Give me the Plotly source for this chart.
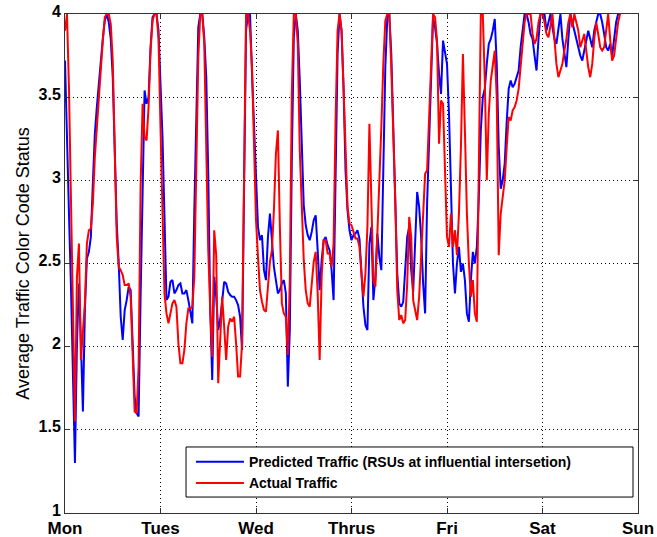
import plotly.graph_objects as go

# Half-hourly averaged traffic colour code status, Monday 00:00 onwards
day_labels = ["Mon", "Tues", "Wed", "Thrus", "Fri", "Sat", "Sun"]
step_hours = 0.5

pred_mon = [3.72, 3.2, 2.8, 2.36, 1.82, 1.30, 2.02, 2.38, 2.02, 1.61, 2.22, 2.53,
            2.57, 2.66, 2.98, 3.28, 3.44, 3.59, 3.74, 3.85, 3.96, 4.0, 3.95, 3.85,
            3.62, 3.12, 2.74, 2.5, 2.18, 2.04, 2.22, 2.28, 2.36, 2.34, 2.02, 1.70,
            1.60, 1.58, 2.30, 3.02, 3.54, 3.46, 3.50, 3.80, 3.98, 4.0, 4.0, 3.9]
pred_tue = [3.62, 3.26, 2.78, 2.28, 2.30, 2.39, 2.40, 2.32, 2.34, 2.37, 2.38, 2.32,
            2.32, 2.34, 2.28, 2.22, 2.14, 2.82, 3.42, 3.92, 4.0, 4.0, 3.86, 3.62,
            3.04, 2.22, 1.80, 2.42, 2.30, 2.10, 2.16, 2.30, 2.39, 2.38, 2.33, 2.31,
            2.30, 2.30, 2.28, 2.25, 2.18, 1.98, 2.92, 3.90, 4.0, 4.0, 3.64, 3.32]
pred_wed = [3.0, 2.72, 2.64, 2.67, 2.46, 2.40, 2.66, 2.80, 2.64, 2.48, 2.40, 2.32,
            2.34, 2.38, 2.40, 2.32, 1.76, 2.10, 3.12, 3.86, 4.0, 3.90, 3.60, 3.16,
            2.85, 2.73, 2.67, 2.64, 2.69, 2.76, 2.79, 2.58, 2.34, 2.52, 2.64, 2.66,
            2.61, 2.58, 2.46, 2.28, 3.02, 3.76, 4.0, 3.90, 3.56, 3.06, 2.82, 2.70]
pred_thu = [2.64, 2.67, 2.68, 2.70, 2.65, 2.46, 2.24, 2.13, 2.10, 2.62, 2.72, 2.28,
            2.42, 2.68, 2.54, 2.46, 3.18, 3.68, 3.98, 4.0, 3.76, 3.28, 2.82, 2.44,
            2.26, 2.24, 2.27, 2.44, 2.66, 2.72, 2.46, 2.33, 2.62, 2.93, 2.84, 2.66,
            2.38, 2.20, 2.86, 3.28, 3.70, 3.98, 3.92, 3.82, 3.64, 3.52, 3.84, 3.78]
pred_fri = [3.70, 3.40, 2.90, 2.50, 2.32, 2.50, 2.60, 2.45, 2.50, 2.40, 2.20, 2.15,
            2.40, 2.57, 2.50, 2.60, 2.90, 3.30, 3.50, 3.55, 3.70, 3.82, 3.85, 3.90,
            3.97, 3.70, 3.20, 2.95, 3.00, 3.10, 3.35, 3.55, 3.60, 3.56, 3.58, 3.62,
            3.66, 3.80, 3.92, 4.0, 4.0, 3.95, 3.88, 3.85, 3.75, 3.66, 3.85, 4.0]
pred_sat = [4.0, 4.0, 3.90, 3.95, 4.0, 3.92, 3.85, 3.82, 3.90, 4.0, 3.85, 3.75,
            3.68, 3.85, 4.0, 3.95, 3.90, 3.85, 3.80, 3.75, 3.72, 3.78, 3.85, 3.90,
            3.85, 3.80, 3.90, 3.95, 4.0, 4.0, 3.95, 3.88, 3.80, 3.78, 3.82, 3.75,
            3.85, 3.95, 4.0, 4.0]

actual_mon = [3.9, 4.0, 3.55, 2.82, 2.05, 1.55, 2.42, 2.62, 1.92, 2.1, 2.26, 2.62,
              2.70, 2.71, 2.86, 3.14, 3.32, 3.49, 3.70, 3.84, 3.98, 4.0, 4.0, 3.94,
              3.72, 3.26, 2.66, 2.48, 2.46, 2.43, 2.37, 2.37, 2.38, 2.30, 1.90, 1.61,
              1.60, 1.88, 2.96, 3.46, 3.26, 3.24, 3.44, 3.78, 3.96, 4.0, 4.0, 3.85]
actual_tue = [3.32, 2.87, 2.32, 2.20, 2.14, 2.20, 2.26, 2.28, 2.24, 2.02, 1.90, 1.90,
              1.98, 2.14, 2.23, 2.23, 2.24, 2.42, 3.02, 3.74, 4.0, 4.0, 3.82, 3.22,
              2.58, 2.22, 1.94, 2.70, 2.55, 1.78, 2.10, 2.30, 2.12, 1.92, 2.12, 2.17,
              2.15, 2.18, 2.02, 1.82, 1.82, 2.02, 3.02, 4.0, 4.0, 3.90, 3.68, 3.20]
actual_wed = [2.76, 2.54, 2.34, 2.27, 2.22, 2.21, 2.38, 2.51, 2.58, 2.82, 3.16, 3.30,
              2.72, 2.26, 2.20, 2.18, 1.95, 2.40, 3.52, 4.0, 4.0, 3.82, 3.18, 2.84,
              2.52, 2.34, 2.26, 2.24, 2.40, 2.51, 2.57, 2.32, 1.92, 2.42, 2.64, 2.64,
              2.56, 2.56, 2.48, 2.62, 3.36, 3.90, 4.0, 3.90, 3.56, 3.12, 2.84, 2.74]
actual_thu = [2.73, 2.69, 2.65, 2.65, 2.60, 2.44, 2.30, 2.44, 2.72, 3.34, 2.86, 2.40,
              2.36, 2.66, 2.98, 3.32, 3.70, 3.96, 4.0, 4.0, 3.68, 3.32, 2.88, 2.34,
              2.16, 2.19, 2.14, 2.16, 2.38, 2.78, 2.66, 2.28, 2.21, 2.16, 2.30, 2.52,
              2.76, 3.04, 3.06, 3.38, 3.78, 4.0, 3.98, 3.84, 3.22, 3.48, 3.46, 3.08]
actual_fri = [2.66, 2.60, 2.80, 2.60, 2.70, 2.55, 2.80, 3.20, 3.76, 3.30, 2.80, 2.50,
              2.30, 2.40, 2.20, 2.15, 3.00, 4.0, 4.0, 3.60, 3.00, 3.40, 3.60, 3.70,
              3.78, 3.50, 2.55, 2.80, 2.90, 3.00, 3.20, 3.38, 3.36, 3.42, 3.44, 3.48,
              3.55, 3.68, 3.85, 3.95, 4.0, 4.0, 4.0, 3.88, 3.82, 3.85, 3.95, 4.0]
actual_sat = [4.0, 3.95, 3.88, 3.86, 3.92, 4.0, 3.85, 3.70, 3.62, 3.66, 3.70, 3.78,
              3.85, 3.95, 4.0, 3.92, 4.0, 3.95, 3.90, 3.80, 3.84, 3.88, 3.78, 3.68,
              3.62, 3.70, 3.85, 3.95, 3.88, 3.80, 3.78, 3.80, 3.90, 4.0, 3.85, 3.72,
              3.75, 3.85, 3.95, 4.0]

predicted = pred_mon + pred_tue + pred_wed + pred_thu + pred_fri + pred_sat
actual = actual_mon + actual_tue + actual_wed + actual_thu + actual_fri + actual_sat
hours_pred = [i * step_hours for i in range(len(predicted))]
hours_actual = [i * step_hours for i in range(len(actual))]

FONT = "Arial, Liberation Sans, Helvetica, sans-serif"

fig = go.Figure()
fig.add_trace(go.Scatter(
    x=hours_pred, y=predicted, mode="lines",
    name="Predicted Traffic (RSUs at influential intersetion)",
    line=dict(color="#0000FF", width=2),
))
fig.add_trace(go.Scatter(
    x=hours_actual, y=actual, mode="lines",
    name="Actual Traffic",
    line=dict(color="#FF0000", width=2),
))

# framed legend box
fig.add_shape(type="rect", xref="paper", yref="paper",
              x0=0.2112, x1=0.9913, y0=0.032, y1=0.1323,
              line=dict(color="black", width=1), fillcolor="white", layer="above")

axis_common = dict(
    showline=True, linecolor="#333333", linewidth=1, mirror="ticks",
    ticks="inside", ticklen=5, tickcolor="#333333",
    showgrid=True, gridcolor="black", gridwidth=1, griddash="1px,3px",
    zeroline=False, automargin=False,
)

fig.update_layout(
    width=657, height=537,
    margin=dict(l=65, r=19, t=14, b=24),
    paper_bgcolor="white", plot_bgcolor="white",
    font=dict(family=FONT, color="black"),
    showlegend=True,
    legend=dict(
        x=0.2198, y=0.134, xanchor="left", yanchor="top",
        bgcolor="rgba(0,0,0,0)", borderwidth=0,
        font=dict(family=FONT, size=14, weight="bold", color="black"),
        tracegroupgap=0, itemwidth=48,
    ),
    xaxis=dict(
        range=[0, 144], tickmode="array",
        tickvals=[24 * i for i in range(len(day_labels))], ticktext=day_labels,
        tickfont=dict(family=FONT, size=17, weight="bold", color="black"),
        **axis_common,
    ),
    yaxis=dict(
        range=[1, 4], tickmode="array",
        tickvals=[1, 1.5, 2, 2.5, 3, 3.5, 4], ticktext=["1", "1.5", "2", "2.5", "3", "3.5", "4"],
        tickfont=dict(family=FONT, size=16, weight="bold", color="black"),
        ticklabelshift=-3,
        title=dict(text="Average Traffic Color Code Status",
                   font=dict(family=FONT, size=18, color="black"), standoff=4),
        **axis_common,
    ),
)

fig.write_html("out.html")
